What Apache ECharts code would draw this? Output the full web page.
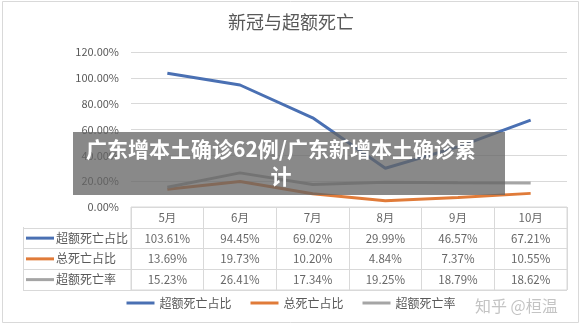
<!DOCTYPE html>
<html>
<head>
<meta charset="utf-8">
<script src="https://cdn.jsdelivr.net/npm/echarts@6/dist/echarts.min.js"></script>
<style>
  html, body { margin: 0; padding: 0; background: #fff; }
  #grafico { width: 582px; height: 328px; }
</style>
</head>
<body>
<div id="grafico"></div>
<script>
// dados
var meses = ["5月", "6月", "7月", "8月", "9月", "10月"];
var nomes = ["超额死亡占比", "总死亡占比", "超额死亡率"];
var cores = ["#4a70b3", "#e07b39", "#a5a5a5"];

var excessoOcupacao = [103.61, 94.45, 69.02, 29.99, 46.57, 67.21];
var totalOcupacao = [13.69, 19.73, 10.20, 4.84, 7.37, 10.55];
var taxaExcesso = [15.23, 26.41, 17.34, 19.25, 18.79, 18.62];

var series = [excessoOcupacao, totalOcupacao, taxaExcesso];
var fonte = "'Noto Sans CJK SC', 'Microsoft YaHei', sans-serif";
var corTexto = "#595959";
var corLinha = "#d9d9d9";

// celulas da tabela: linha 0 = meses, depois uma linha por serie
var celulas = [];
meses.forEach((m, i) => {
    celulas.push({ value: [i, 0], texto: m });
    series.forEach((s, r) => {
        celulas.push({ value: [i, r + 1], texto: s[i].toFixed(2) + "%" });
    });
});

var richLinhas = {
    t: { fontSize: 12, color: corTexto, fontFamily: fonte, padding: [0, 0, 0, 2] }
};
cores.forEach((c, k) => {
    richLinhas["m" + k] = { width: 28, height: 3, backgroundColor: c };
});

var meuGrafico = echarts.init(document.getElementById("grafico"));

var option = {
    backgroundColor: "#fff",
    title: {
        text: "新冠与超额死亡",
        left: "center",
        top: 8,
        textStyle: { fontSize: 18, fontWeight: "normal", color: corTexto, fontFamily: fonte }
    },
    legend: {
        data: nomes,
        bottom: 14,
        left: "center",
        icon: "rect",
        itemWidth: 28,
        itemHeight: 3,
        itemGap: 19,
        textStyle: { fontSize: 12, color: corTexto, fontFamily: fonte }
    },
    grid: [
        { left: 131, right: 15, top: 52, bottom: 121 },
        { left: 131, right: 15, top: 207, height: 83, show: true, borderColor: corLinha, borderWidth: 1 }
    ],
    xAxis: [
        {
            type: "category",
            gridIndex: 0,
            data: meses,
            boundaryGap: true,
            axisLabel: { show: false },
            axisTick: { show: false },
            axisLine: { show: false }
        },
        {
            type: "category",
            gridIndex: 1,
            data: meses,
            boundaryGap: true,
            axisLabel: { show: false },
            axisTick: { show: false },
            axisLine: { show: false },
            splitLine: { show: true, lineStyle: { color: corLinha } }
        }
    ],
    yAxis: [
        {
            type: "value",
            gridIndex: 0,
            min: 0,
            max: 120,
            interval: 20,
            axisLabel: {
                formatter: v => v.toFixed(2) + "%",
                fontSize: 11,
                color: corTexto,
                fontFamily: fonte,
                margin: 12
            },
            axisLine: { show: false },
            axisTick: { show: false },
            splitLine: { lineStyle: { color: corLinha } }
        },
        {
            type: "category",
            gridIndex: 1,
            inverse: true,
            data: ["", ...nomes],
            boundaryGap: true,
            axisLine: { show: false },
            axisTick: {
                show: true,
                length: 108,
                interval: (idx) => idx > 0,
                lineStyle: { color: corLinha }
            },
            splitLine: { show: true, lineStyle: { color: corLinha } },
            axisLabel: {
                align: "left",
                margin: 105,
                formatter: (v, idx) => idx == 0 ? "" : `{m${idx - 1}|}{t|${v}}`,
                rich: richLinhas
            }
        }
    ],
    series: [
        ...series.map((s, k) => ({
            name: nomes[k],
            type: "line",
            xAxisIndex: 0,
            yAxisIndex: 0,
            data: s,
            symbol: "none",
            lineStyle: { width: 3, color: cores[k] },
            itemStyle: { color: cores[k] }
        })),
        {
            name: "tabela",
            type: "scatter",
            xAxisIndex: 1,
            yAxisIndex: 1,
            data: celulas,
            symbolSize: 0,
            silent: true,
            label: {
                show: true,
                position: "inside",
                formatter: p => p.data.texto,
                fontSize: 11.5,
                color: "#404040",
                fontFamily: fonte
            }
        }
    ],
    graphic: [
        {
            type: "rect",
            shape: { x: 2.5, y: 1.5, width: 576, height: 321 },
            style: { fill: "none", stroke: "#d9d9d9", lineWidth: 1 },
            z: 0
        },
        {
            type: "line",
            shape: { x1: 23.5, y1: 227, x2: 23.5, y2: 290 },
            style: { stroke: corLinha, lineWidth: 1 }
        },
        {
            type: "text",
            left: 475,
            top: 298,
            style: { text: "知乎 @桓温", fontSize: 16, fill: "#c4c4c4", fontFamily: fonte }
        },
        {
            type: "rect",
            shape: { x: 73, y: 132, width: 432, height: 63 },
            style: { fill: "rgba(100,100,100,0.76)" },
            z: 100
        },
        {
            type: "text",
            x: 281,
            y: 163,
            z: 101,
            style: {
                text: "广东增本土确诊62例/广东新增本土确诊累\n计",
                align: "center",
                verticalAlign: "middle",
                fontSize: 21,
                fontWeight: "bold",
                lineHeight: 27,
                fill: "#fff",
                fontFamily: fonte
            }
        }
    ]
};

meuGrafico.setOption(option);
</script>
</body>
</html>
